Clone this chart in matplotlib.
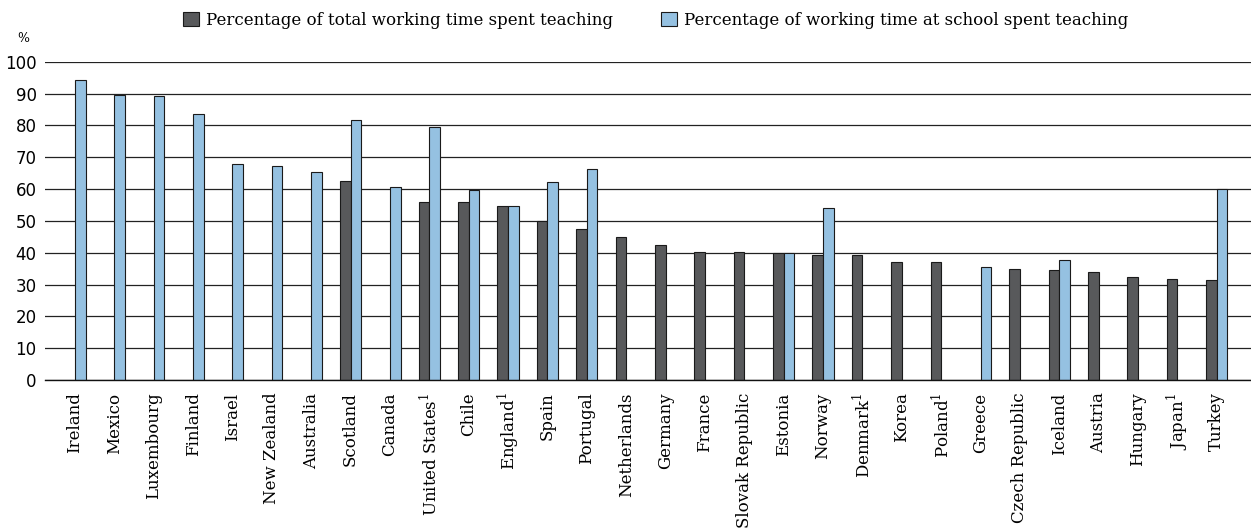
import numpy as np
import matplotlib
matplotlib.use("Agg")
import matplotlib.pyplot as plt

countries = ["Ireland", "Mexico", "Luxembourg", "Finland", "Israel", "New Zealand",
             "Australia", "Scotland", "Canada", "United States$^{1}$", "Chile",
             "England$^{1}$", "Spain", "Portugal", "Netherlands", "Germany", "France",
             "Slovak Republic", "Estonia", "Norway", "Denmark$^{1}$", "Korea",
             "Poland$^{1}$", "Greece", "Czech Republic", "Iceland", "Austria",
             "Hungary", "Japan$^{1}$", "Turkey"]

# percentage of total working time spent teaching (nan = missing)
total_pct = [np.nan, np.nan, np.nan, np.nan, np.nan, np.nan, np.nan, 62.5, np.nan, 56.0,
             55.9, 54.8, 49.9, 47.3, 45.0, 42.4, 40.2, 40.2, 40.0, 39.2,
             39.2, 37.2, 37.2, np.nan, 34.8, 34.6, 34.0, 32.3, 31.7, 31.3]

# percentage of working time at school spent teaching
school_pct = [94.3, 89.7, 89.2, 83.7, 68.0, 67.4, 65.4, 81.8, 60.8, 79.4,
              59.8, 54.8, 62.3, 66.4, np.nan, np.nan, np.nan, np.nan, 40.0, 54.0,
              np.nan, np.nan, np.nan, 35.4, np.nan, 37.7, np.nan, np.nan, np.nan, 60.1]

yticks = [0, 10, 20, 30, 40, 50, 60, 70, 80, 90, 100]

plt.rcParams['mathtext.fontset'] = 'custom'
plt.rcParams['mathtext.rm'] = 'DejaVu Serif'

fig = plt.figure(figsize=(12.51, 5.28), dpi=100)
ax = fig.add_axes([0.036, 0.2803, 0.964, 0.6027])

x = np.arange(len(countries))
w = 0.27
dark = "#58595b"
light = "#95c1e1"
ax.bar(x - w / 2, total_pct, w, color=dark, edgecolor="#1a1a1a", linewidth=0.8,
       label="Percentage of total working time spent teaching", zorder=3)
ax.bar(x + w / 2, school_pct, w, color=light, edgecolor="#1a1a1a", linewidth=0.8,
       label="Percentage of working time at school spent teaching", zorder=3)

ax.set_ylim(0, 100)
ax.set_xlim(-0.76, len(countries) - 0.13)
ax.set_yticks(yticks)
ax.set_yticklabels([str(t) for t in yticks], fontsize=12, family="DejaVu Sans")
ax.yaxis.grid(True, color="#222222", linewidth=0.9, zorder=0)
ax.tick_params(axis="y", length=0, pad=6)

ax.set_xticks(x)
ax.set_xticklabels(countries, rotation=90, fontsize=12, family="DejaVu Serif")
ax.tick_params(axis="x", length=0, pad=9)

for s in ["top", "right", "left"]:
    ax.spines[s].set_visible(False)
ax.spines["bottom"].set_color("#111111")
ax.spines["bottom"].set_linewidth(1.0)
ax.spines["bottom"].set_zorder(4)

fig.text(0.0135, 0.927, "%", fontsize=9, family="DejaVu Serif", ha="left", va="center")

fig.legend(loc="center", bbox_to_anchor=(0.524, 0.962), ncol=2, frameon=False,
           prop={"family": "DejaVu Serif", "size": 12}, handlelength=0.95,
           handleheight=0.9, handletextpad=0.4, columnspacing=2.9)

fig.savefig("out.png", dpi=100)
